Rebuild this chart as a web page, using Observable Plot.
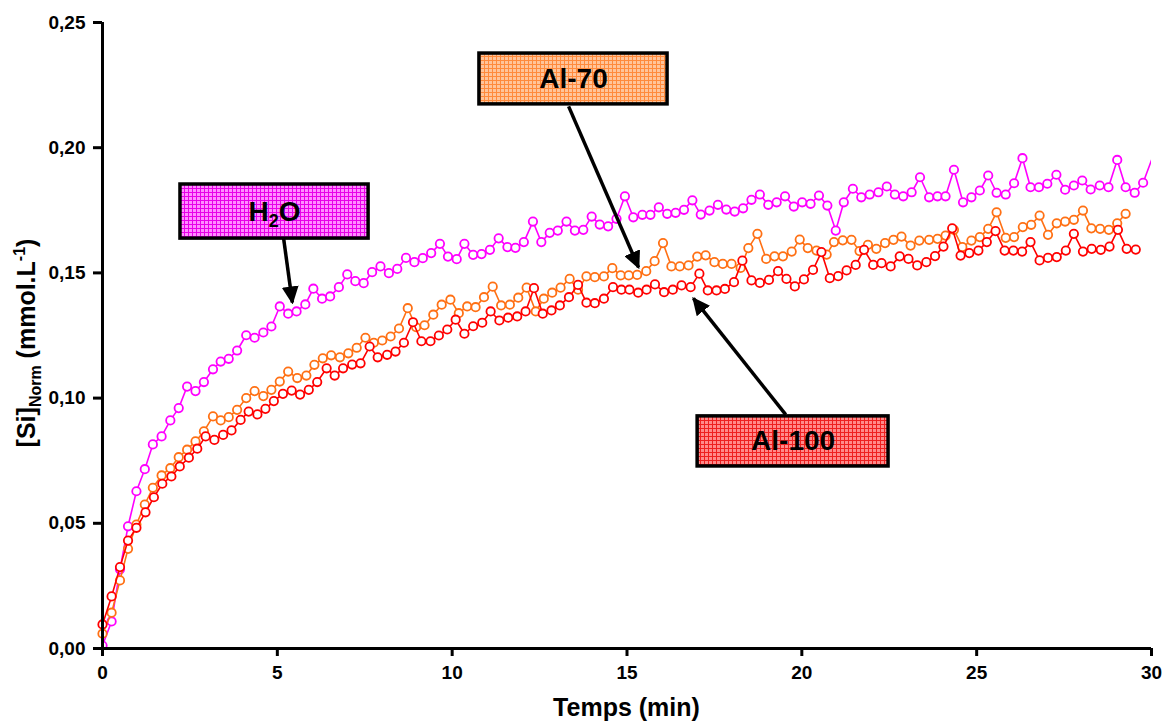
<!DOCTYPE html>
<html><head><meta charset="utf-8">
<script src="https://cdn.jsdelivr.net/npm/d3@7"></script>
<script src="https://cdn.jsdelivr.net/npm/@observablehq/plot@0.6"></script>
<style>body{margin:0;background:#fff;} #chart svg{display:block}</style>
</head><body>
<svg width="0" height="0" style="position:absolute">
<defs>
 <pattern id="grid-h2o" width="4" height="4" patternUnits="userSpaceOnUse"><rect width="4" height="4" fill="#ff8cff"/><path d="M0 0.5H4M0.5 0V4" stroke="#e800e8" stroke-width="1"/></pattern>
 <pattern id="grid-al70" width="4" height="4" patternUnits="userSpaceOnUse"><rect width="4" height="4" fill="#ffc49a"/><path d="M0 0.5H4M0.5 0V4" stroke="#ff8a3c" stroke-width="1"/></pattern>
 <pattern id="grid-al100" width="4" height="4" patternUnits="userSpaceOnUse"><rect width="4" height="4" fill="#ff8a8a"/><path d="M0 0.5H4M0.5 0V4" stroke="#ee2020" stroke-width="1"/></pattern>
 <marker id="arrowhead" viewBox="0 0 18 17" refX="16" refY="8.5" markerWidth="18" markerHeight="17" markerUnits="userSpaceOnUse" orient="auto"><path d="M0,0L18,8.5L0,17Z" fill="#000"/></marker>
</defs></svg>
<div id="chart"></div>
<script>
// ---- data (time in min, [Si]Norm in mmol/L) ----
const h2o = [[0,0.0012],[0.26,0.0108],[0.50,0.0316],[0.73,0.0488],[0.97,0.0628],[1.21,0.0716],[1.44,0.0815],[1.69,0.0847],[1.94,0.0911],[2.18,0.0960],[2.42,0.1046],[2.66,0.1028],[2.90,0.1064],[3.16,0.1115],[3.38,0.1146],[3.61,0.1157],[3.85,0.1190],[4.11,0.1251],[4.35,0.1241],[4.60,0.1262],[4.83,0.1286],[5.07,0.1366],[5.31,0.1337],[5.55,0.1346],[5.80,0.1374],[6.03,0.1437],[6.28,0.1397],[6.51,0.1406],[6.76,0.1443],[7.00,0.1494],[7.23,0.1467],[7.47,0.1459],[7.71,0.1503],[7.95,0.1526],[8.19,0.1499],[8.43,0.1516],[8.68,0.1560],[8.92,0.1543],[9.16,0.1559],[9.40,0.1579],[9.65,0.1616],[9.88,0.1565],[10.13,0.1555],[10.35,0.1616],[10.60,0.1572],[10.84,0.1575],[11.08,0.1592],[11.33,0.1638],[11.58,0.1603],[11.81,0.1600],[12.05,0.1623],[12.31,0.1705],[12.55,0.1623],[12.79,0.1660],[13.02,0.1669],[13.27,0.1705],[13.51,0.1669],[13.75,0.1672],[13.99,0.1725],[14.22,0.1693],[14.46,0.1686],[14.70,0.1716],[14.94,0.1806],[15.18,0.1722],[15.44,0.1732],[15.67,0.1732],[15.91,0.1762],[16.15,0.1736],[16.39,0.1740],[16.63,0.1752],[16.87,0.1790],[17.11,0.1733],[17.36,0.1749],[17.60,0.1772],[17.84,0.1753],[18.08,0.1745],[18.32,0.1758],[18.56,0.1792],[18.80,0.1813],[19.04,0.1772],[19.28,0.1782],[19.52,0.1806],[19.77,0.1765],[20.01,0.1782],[20.25,0.1776],[20.49,0.1809],[20.73,0.1769],[20.97,0.1669],[21.20,0.1782],[21.46,0.1836],[21.70,0.1802],[21.94,0.1813],[22.19,0.1822],[22.43,0.1845],[22.66,0.1813],[22.90,0.1806],[23.14,0.1822],[23.38,0.1882],[23.64,0.1802],[23.88,0.1806],[24.11,0.1806],[24.35,0.1912],[24.61,0.1782],[24.85,0.1802],[25.09,0.1829],[25.33,0.1889],[25.57,0.1820],[25.83,0.1813],[26.07,0.1858],[26.31,0.1958],[26.54,0.1842],[26.78,0.1842],[27.02,0.1856],[27.28,0.1892],[27.53,0.1832],[27.78,0.1849],[28.02,0.1869],[28.26,0.1833],[28.52,0.1849],[28.77,0.1842],[29.02,0.1951],[29.26,0.1842],[29.52,0.1820],[29.76,0.1860],[30.16,0.2010]];
const al70 = [[0,0.0059],[0.26,0.0143],[0.50,0.0272],[0.73,0.0398],[0.97,0.0495],[1.21,0.0575],[1.44,0.0642],[1.69,0.0691],[1.94,0.0720],[2.18,0.0764],[2.42,0.0794],[2.66,0.0827],[2.90,0.0867],[3.16,0.0927],[3.38,0.0911],[3.61,0.0924],[3.85,0.0953],[4.11,0.1000],[4.35,0.1028],[4.60,0.1008],[4.83,0.1033],[5.07,0.1066],[5.31,0.1106],[5.57,0.1080],[5.83,0.1090],[6.06,0.1133],[6.30,0.1159],[6.54,0.1171],[6.79,0.1163],[7.03,0.1179],[7.27,0.1201],[7.52,0.1241],[7.76,0.1221],[8.00,0.1230],[8.24,0.1246],[8.48,0.1278],[8.73,0.1359],[8.97,0.1283],[9.21,0.1291],[9.46,0.1333],[9.70,0.1373],[9.95,0.1393],[10.19,0.1339],[10.43,0.1366],[10.67,0.1363],[10.91,0.1403],[11.16,0.1445],[11.40,0.1370],[11.65,0.1373],[11.89,0.1401],[12.13,0.1441],[12.39,0.1346],[12.62,0.1397],[12.86,0.1421],[13.10,0.1441],[13.36,0.1476],[13.60,0.1433],[13.84,0.1486],[14.08,0.1483],[14.34,0.1486],[14.58,0.1519],[14.82,0.1490],[15.05,0.1490],[15.29,0.1492],[15.55,0.1507],[15.79,0.1547],[16.03,0.1619],[16.27,0.1526],[16.51,0.1526],[16.76,0.1530],[17.01,0.1565],[17.25,0.1570],[17.50,0.1543],[17.74,0.1536],[17.99,0.1536],[18.25,0.1520],[18.47,0.1599],[18.73,0.1656],[18.98,0.1556],[19.22,0.1566],[19.46,0.1566],[19.71,0.1585],[19.94,0.1633],[20.17,0.1599],[20.42,0.1589],[20.71,0.1573],[20.92,0.1623],[21.17,0.1630],[21.42,0.1632],[21.65,0.1587],[21.89,0.1612],[22.13,0.1596],[22.38,0.1619],[22.62,0.1632],[22.85,0.1645],[23.11,0.1609],[23.36,0.1629],[23.64,0.1632],[23.88,0.1636],[24.11,0.1649],[24.35,0.1672],[24.59,0.1603],[24.85,0.1629],[25.09,0.1643],[25.33,0.1676],[25.57,0.1742],[25.83,0.1640],[26.07,0.1643],[26.32,0.1683],[26.56,0.1692],[26.80,0.1729],[27.04,0.1652],[27.29,0.1698],[27.53,0.1705],[27.78,0.1712],[28.04,0.1749],[28.28,0.1678],[28.53,0.1676],[28.78,0.1672],[29.02,0.1698],[29.26,0.1736]];
const al100 = [[0,0.0096],[0.26,0.0208],[0.50,0.0325],[0.73,0.0431],[0.97,0.0482],[1.23,0.0544],[1.47,0.0604],[1.71,0.0658],[1.97,0.0687],[2.21,0.0727],[2.47,0.0762],[2.71,0.0798],[2.95,0.0847],[3.20,0.0833],[3.45,0.0853],[3.69,0.0871],[3.95,0.0913],[4.18,0.0946],[4.43,0.0935],[4.66,0.0957],[4.90,0.0988],[5.16,0.1017],[5.41,0.1030],[5.65,0.1014],[5.90,0.1033],[6.14,0.1064],[6.41,0.1119],[6.64,0.1090],[6.88,0.1119],[7.14,0.1134],[7.38,0.1139],[7.64,0.1206],[7.87,0.1163],[8.14,0.1173],[8.38,0.1186],[8.62,0.1221],[8.88,0.1303],[9.12,0.1227],[9.38,0.1227],[9.62,0.1250],[9.86,0.1274],[10.10,0.1313],[10.35,0.1257],[10.60,0.1287],[10.86,0.1301],[11.10,0.1346],[11.35,0.1310],[11.60,0.1321],[11.86,0.1326],[12.10,0.1346],[12.34,0.1439],[12.59,0.1337],[12.84,0.1350],[13.08,0.1370],[13.34,0.1403],[13.60,0.1452],[13.84,0.1381],[14.08,0.1379],[14.34,0.1397],[14.60,0.1443],[14.84,0.1433],[15.07,0.1433],[15.32,0.1421],[15.56,0.1433],[15.80,0.1454],[16.06,0.1423],[16.31,0.1433],[16.56,0.1450],[16.82,0.1443],[17.07,0.1497],[17.31,0.1430],[17.56,0.1430],[17.80,0.1436],[18.06,0.1463],[18.30,0.1549],[18.56,0.1470],[18.80,0.1460],[19.06,0.1472],[19.32,0.1507],[19.56,0.1476],[19.80,0.1446],[20.06,0.1474],[20.32,0.1512],[20.56,0.1583],[20.80,0.1479],[21.04,0.1487],[21.28,0.1510],[21.54,0.1532],[21.78,0.1592],[22.04,0.1532],[22.28,0.1539],[22.54,0.1526],[22.80,0.1566],[23.05,0.1556],[23.30,0.1530],[23.56,0.1543],[23.81,0.1567],[24.05,0.1605],[24.30,0.1678],[24.54,0.1569],[24.79,0.1579],[25.05,0.1589],[25.29,0.1623],[25.54,0.1667],[25.80,0.1589],[26.05,0.1589],[26.30,0.1585],[26.54,0.1623],[26.80,0.1550],[27.04,0.1560],[27.29,0.1563],[27.55,0.1589],[27.78,0.1656],[28.04,0.1585],[28.29,0.1596],[28.55,0.1592],[28.80,0.1605],[29.04,0.1672],[29.29,0.1596],[29.55,0.1593]];

const xTicks = [0, 5, 10, 15, 20, 25, 30];
const yTicks = [0, 0.05, 0.10, 0.15, 0.20, 0.25];
const xTitle = "Temps (min)";

// annotation boxes / arrows (data units)
const annotationBoxes = [
  {label: "H2O", x1: 2.23, x2: 7.61, y1: 0.1637, y2: 0.1853},
  {label: "Al-70", x1: 10.78, x2: 16.16, y1: 0.2173, y2: 0.2376},
  {label: "Al-100", x1: 17.02, x2: 22.48, y1: 0.0727, y2: 0.0927}
];
const annotationArrows = [
  {label: "H2O", x1: 5.18, y1: 0.1637, x2: 5.43, y2: 0.1382},
  {label: "Al-70", x1: 13.33, y1: 0.2165, x2: 15.33, y2: 0.1522},
  {label: "Al-100", x1: 19.54, y1: 0.0934, x2: 16.90, y2: 0.1398}
];

// styles
const colors = {h2o: "#ff00ff", al70: "#ff7014", al100: "#ff0000"};
const fills = {"H2O": "url(#grid-h2o)", "Al-70": "url(#grid-al70)", "Al-100": "url(#grid-al100)"};
const font = "'Liberation Sans', Arial, Helvetica, sans-serif";

function series(data, color, clip) {
  return [
    Plot.line(data, {x: d => d[0], y: d => d[1], stroke: color, strokeWidth: 1.6, clip}),
    Plot.dot(data, {x: d => d[0], y: d => d[1], r: 4.2, fill: "white", stroke: color, strokeWidth: 1.8, clip})
  ];
}

const chart = Plot.plot({
  width: 1163, height: 724,
  marginLeft: 102, marginRight: 12, marginTop: 22, marginBottom: 76,
  style: {fontFamily: font, fontWeight: "bold", fontSize: "19px", background: "white", color: "black", overflow: "visible"},
  x: {domain: [0, 30], ticks: xTicks, tickSize: 8, tickPadding: 9, label: null},
  y: {domain: [0, 0.25], ticks: yTicks, tickSize: 9, tickPadding: 8, label: null,
      tickFormat: d => d.toFixed(2).replace(".", ",")},
  marks: [
    ...series(h2o, colors.h2o, true),
    ...series(al70, colors.al70, false),
    ...series(al100, colors.al100, false),
    Plot.ruleY([0], {stroke: "black", strokeWidth: 3}),
    Plot.ruleX([0], {stroke: "black", strokeWidth: 3}),
    Plot.link(annotationArrows, {x1: "x1", y1: "y1", x2: "x2", y2: "y2", stroke: "black", strokeWidth: 3.5}),
    ...annotationBoxes.map(b => Plot.rect([b], {x1: "x1", x2: "x2", y1: "y1", y2: "y2", fill: fills[b.label], stroke: "black", strokeWidth: 3.5})),
    Plot.text(annotationBoxes, {x: d => (d.x1 + d.x2) / 2, y: d => (d.y1 + d.y2) / 2, text: "label", fontSize: 28, fontWeight: "bold", fill: "black"})
  ]
});

document.getElementById("chart").appendChild(chart);

// thicker axis ticks
chart.querySelectorAll("g[aria-label]").forEach(g => {
  const a = g.getAttribute("aria-label");
  if (a.includes("axis")) g.setAttribute("stroke-width", "3");
});
// filled arrowheads
chart.querySelectorAll('g[aria-label="link"] path').forEach(p => p.setAttribute("marker-end", "url(#arrowhead)"));
// subscript in H2O
chart.querySelectorAll("text").forEach(t => {
  if (t.textContent === "H2O") {
    const sel = d3.select(t);
    sel.text(null);
    sel.append("tspan").text("H");
    sel.append("tspan").attr("font-size", 18).attr("dy", 6).text("2");
    sel.append("tspan").attr("dy", -6).text("O");
  }
});

const svg = d3.select(chart);
const xs = chart.scale("x");
// x axis title
svg.append("text").attr("x", (xs.range[0] + xs.range[1]) / 2).attr("y", 716)
  .attr("text-anchor", "middle").attr("font-size", 25).attr("font-weight", "bold").attr("fill", "black")
  .text(xTitle);
// y axis title with subscript / superscript
const yt = svg.append("text").attr("transform", "translate(35,343) rotate(-90)")
  .attr("text-anchor", "middle").attr("font-size", 25).attr("font-weight", "bold").attr("fill", "black");
yt.append("tspan").text("[Si]");
yt.append("tspan").attr("font-size", 16).attr("dy", 6).text("Norm");
yt.append("tspan").attr("dy", -6).text(" (mmol.L");
yt.append("tspan").attr("font-size", 16).attr("dy", -10).text("-1");
yt.append("tspan").attr("dy", 10).text(")");
</script>
</body></html>
